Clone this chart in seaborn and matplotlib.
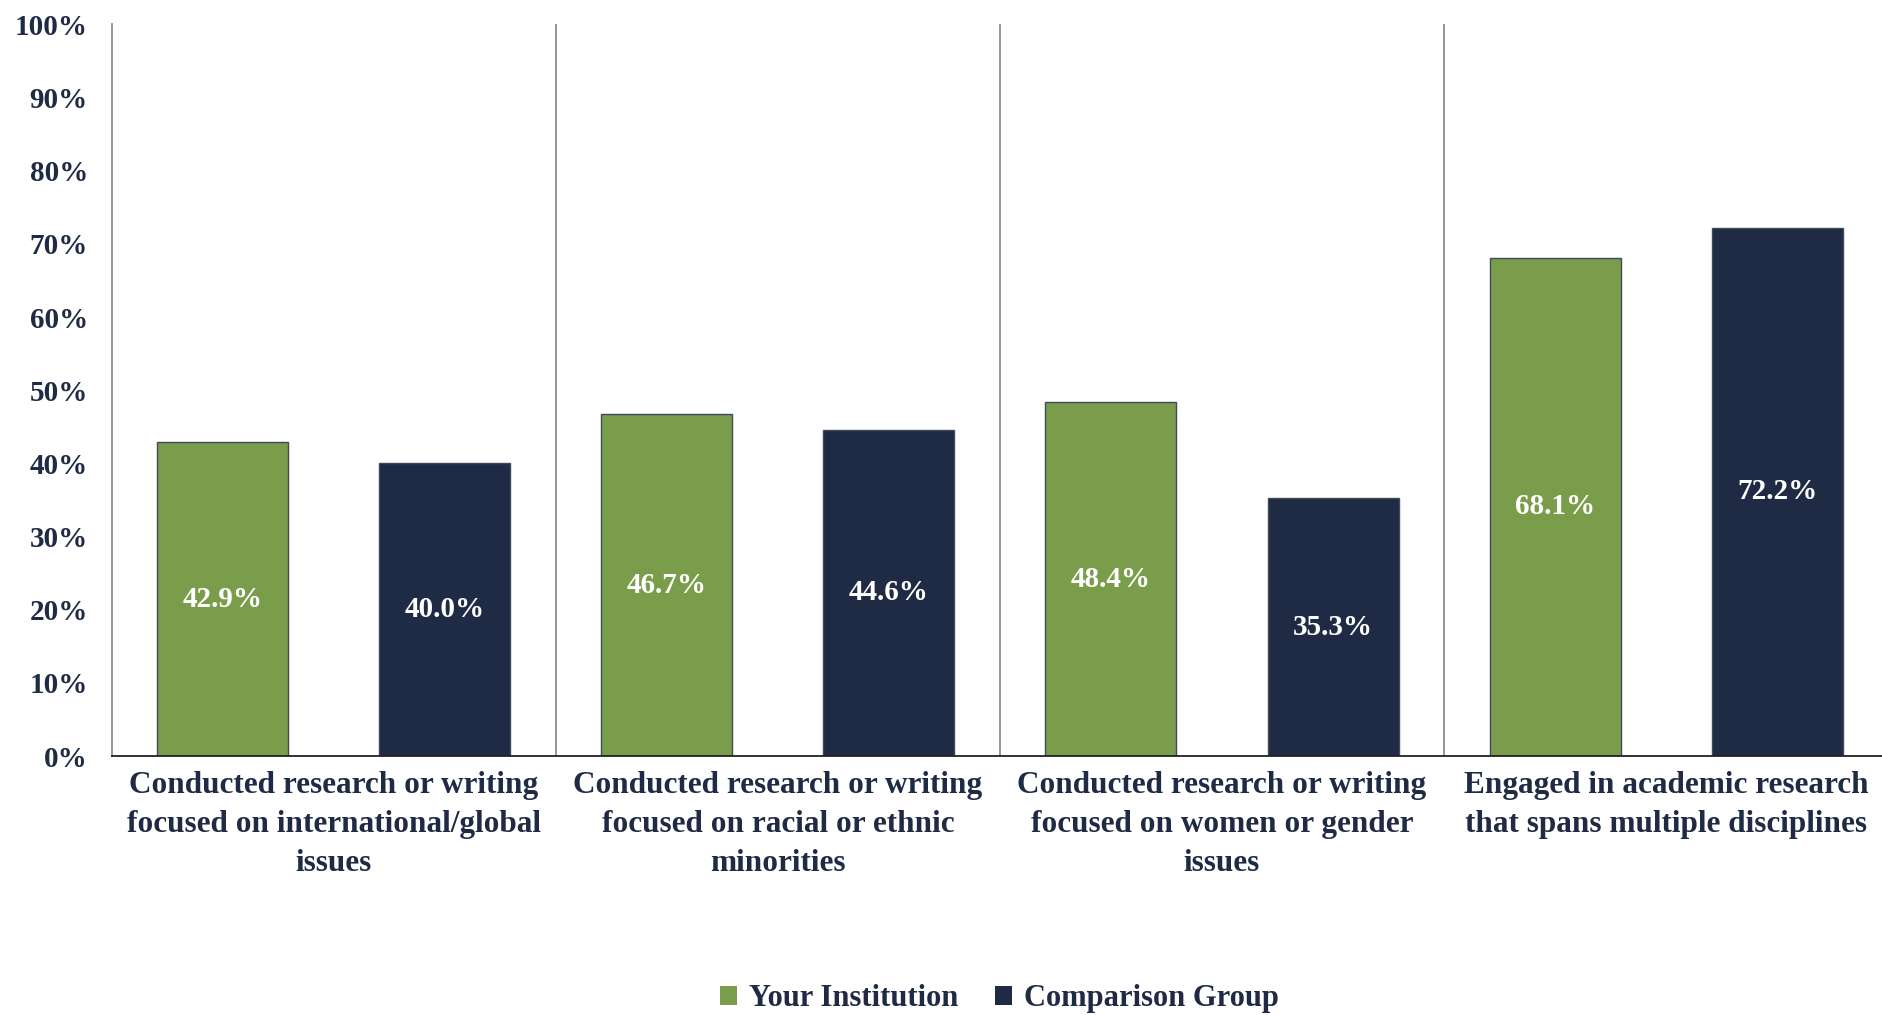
import pandas as pd
import matplotlib.pyplot as plt
import seaborn as sns
from matplotlib.ticker import PercentFormatter

categories = [
    "Conducted research or writing\nfocused on international/global\nissues",
    "Conducted research or writing\nfocused on racial or ethnic\nminorities",
    "Conducted research or writing\nfocused on women or gender\nissues",
    "Engaged in academic research\nthat spans multiple disciplines",
]
groups = ["Your Institution", "Comparison Group"]
your_institution = [42.9, 46.7, 48.4, 68.1]
comparison_group = [40.0, 44.6, 35.3, 72.2]

GREEN = "#799D4A"
NAVY = "#1F2A44"


def main():
    df = pd.DataFrame({
        "category": categories * 2,
        "group": [groups[0]] * 4 + [groups[1]] * 4,
        "value": your_institution + comparison_group,
    })

    sns.set_style("white")
    plt.rcParams["font.family"] = ["Liberation Serif", "DejaVu Serif"]
    plt.rcParams["font.weight"] = "bold"

    fig = plt.figure(figsize=(18.82, 10.15), dpi=100)
    # plot area runs a hair past the right edge, like the original
    ax = fig.add_axes([0.0593, 0.255, 0.944, 0.721])

    sns.barplot(data=df, x="category", y="value", hue="group",
                palette=[GREEN, NAVY], saturation=1, width=1.0, gap=0.41,
                edgecolor="#3E4A5C", linewidth=1.0, ax=ax, legend=True)

    for cont in ax.containers:
        ax.bar_label(cont, labels=[f"{v:.1f}%" for v in cont.datavalues],
                     label_type="center", color="white", fontsize=21,
                     fontweight="bold")

    # category dividers
    for i in range(len(categories) - 1):
        ax.axvline(i + 0.5, color="#8C8C8C", lw=1.3)

    ax.set_xlim(-0.5, len(categories) - 0.5)
    ax.set_ylim(0, 100)
    ax.set_yticks(range(0, 101, 10))
    ax.yaxis.set_major_formatter(PercentFormatter(decimals=0))
    ax.set_xlabel("")
    ax.set_ylabel("")
    ax.tick_params(axis="y", labelsize=21, colors=NAVY, length=0, pad=17)
    ax.tick_params(axis="x", labelsize=22.5, colors=NAVY, length=0, pad=11)
    for lab in ax.get_xticklabels():
        lab.set_linespacing(1.45)

    sns.despine(ax=ax, top=True, right=True)
    ax.spines["left"].set_color("#8C8C8C")
    ax.spines["left"].set_linewidth(1.3)
    ax.spines["bottom"].set_color("#222222")
    ax.spines["bottom"].set_linewidth(1.3)

    handles, labels = ax.get_legend_handles_labels()
    ax.get_legend().remove()
    for h in handles:
        h.set_edgecolor("none")
    fig.legend(handles, labels, loc="center", bbox_to_anchor=(0.531, 0.016),
               ncol=2, frameon=False, fontsize=22, handlelength=0.55,
               handleheight=0.55, handletextpad=0.4, columnspacing=1.2,
               labelcolor=NAVY)

    fig.savefig("out.png", dpi=100)
    plt.close(fig)


if __name__ == "__main__":
    main()
